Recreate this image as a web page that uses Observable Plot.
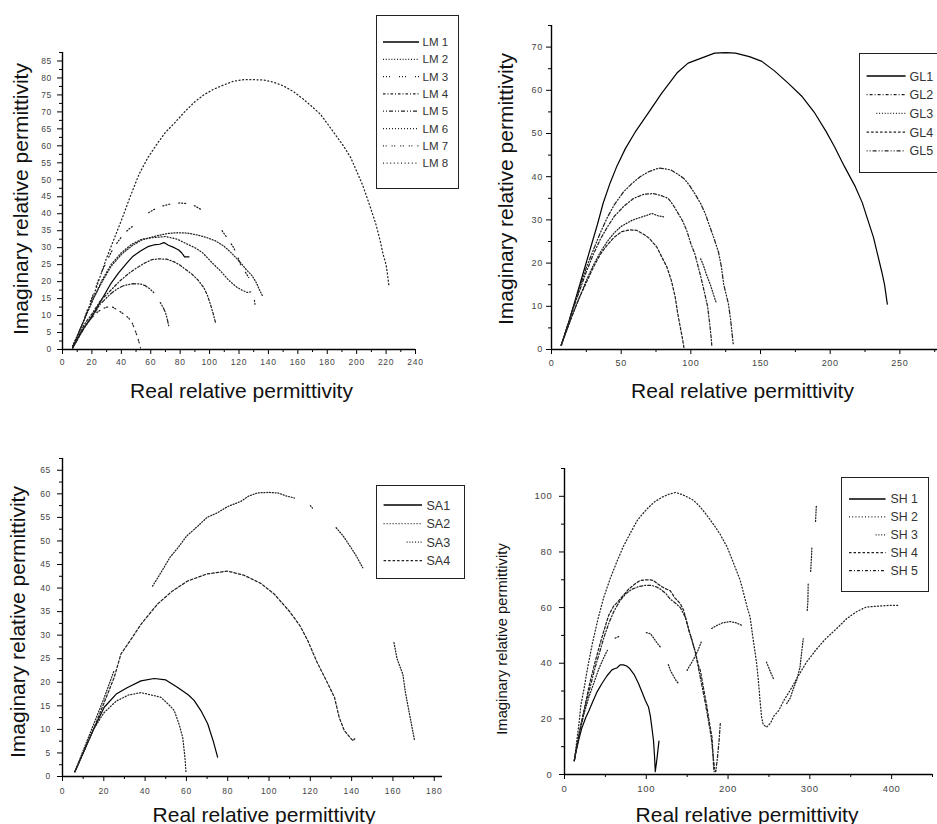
<!DOCTYPE html>
<html><head><meta charset="utf-8">
<script src="https://cdn.jsdelivr.net/npm/d3@7"></script>
<script src="https://cdn.jsdelivr.net/npm/@observablehq/plot@0.6"></script>
<style>
body{margin:0;background:#fff;}
#fig{position:relative;width:937px;height:824px;overflow:hidden;background:#fff;font-family:"Liberation Sans",Arial,sans-serif;}
.panel{position:absolute;}
.panel svg{overflow:visible;}
.title{position:absolute;white-space:nowrap;line-height:1;font-size:21px;color:#111;transform-origin:center;}
.legend{position:absolute;border:1.5px solid #222;background:#fff;box-sizing:border-box;overflow:visible;}
</style></head><body><div id="fig"></div>
<script>
// ---------- DATA ----------
// Panel 1 : LM samples  ([real, imaginary], null = gap)
const LM1 = [[7,0.5],[10,3],[14,6],[18,8.5],[21,10.5],[25,13.5],[29,16.5],[33,19.5],[38,22.5],[44,25.6],[48,27.5],[53,29],[58,30.3],[62,30.8],[66,31],[69,31.5],[72,30.7],[76,30],[79,29.3],[81,28.5],[83,27.3],[86,27.3]];
const LM2 = [[7,1],[11,5],[16,10],[21,15],[27,20],[33,24.5],[40,28],[47,30.5],[54,32.3],[60,33],[66,33.7],[72,34.2],[78,34.4],[85,34.3],[92,33.7],[98,33],[104,32],[109.6,30.5],[114,28.8],[118,27],[121,25.6],[125,23.5],[129,21.7],[132,19.5],[134,17.5],[136,15.8]];
const LM3 = [[7,1],[10,4],[14,8],[18,13],[22,17.5],[25.7,22],[31.3,27.1],[34.7,30],[41.5,34],[46,35.8],[51.7,37.4],null,[58.5,40.3],[62,41.2],[66,42],[70,42.5],[75,43],[80,43.2],[85,43],[90,42.3],[96,40.8],null,[108.5,35],[112,32.8],[116.4,30],[119,27.5],[121,25.1],[124,23],[126.6,21.2],null,[130.5,14.5],[131,12.9]];
const LM4 = [[7,0.5],[11,4],[15,7.5],[20,10.5],[26,14.5],[32.5,17.3],[39,20.2],[45,22.4],[50.6,24.1],[56,25.5],[61,26.5],[66,26.7],[71,26.6],[76,25.8],[80,24.8],[84,23.5],[88,22.2],[92,20.5],[96,18.3],[98.5,16],[100.5,13.4],[102.5,10.5],[104,8]];
const LM5 = [[7,0.5],[11,3.5],[15,6.5],[20,9.5],[25.7,13.4],[32.5,16.3],[37,17.8],[41.5,18.8],[48,19.4],[53,19.3],[56.3,18.8],[59,18],[62,16.8],null,[66.5,13.8],[68.5,12.3],[70,10.9],[71.2,9],[72.2,7]];
const LM6 = [[7,1],[11,5],[16,10],[21,15],[27,20.5],[33,25],[40,28.5],[47,31],[54,32.5],[62,33],[70,33.3],[78,32.5],[85,31],[90,30],[95,28.6],[101.6,25.6],[107.3,23.2],[113,20.4],[118.7,18.3],[122,17.5],[125.5,16.8],[128,17]];
const LM7 = [[7,0.5],[10,3],[14,6],[18,8.5],[23.4,10.9],[27,12],[30.2,12.5],[34,12.5],[38,11.5],[42,10.3],[45,9.3],[47.5,7.7],[49.5,5.5],[51.5,3],[53,0.5]];
const LM8 = [[7,0.5],[10,3.5],[14,8],[18,12.5],[22,17],[26,22],[30,27],[35,32.5],[40,38],[46,45],[52,51.6],[58,56.5],[65,61],[70,64],[75.5,66.4],[83,70],[90,73],[96,75],[102.8,76.7],[110,78],[116,79],[123,79.5],[130,79.5],[137,79.4],[143,78.8],[150,77.7],[157,76],[163,74],[169,71.8],[175.4,69.3],[181,66],[186,63],[191,60],[196,56.5],[200,52.5],[204,48.5],[207,44.8],[210,41],[213,37],[216,32],[218,28],[220,25],[221,22],[222,18.5]];
const lmNames = ["LM 1","LM 2","LM 3","LM 4","LM 5","LM 6","LM 7","LM 8"];
const lmXTicks = [0,20,40,60,80,100,120,140,160,180,200,220,240];
const lmYTicks = [0,5,10,15,20,25,30,35,40,45,50,55,60,65,70,75,80,85];

// Panel 2 : GL samples
const GL1 = [[7,1],[12,6],[18,12.5],[23,18],[28,23.5],[33,29],[37,33.8],[42,38.5],[47,42.5],[53,46.5],[60,50.3],[70,55],[79,59.3],[90,64],[98,66.3],[108,67.5],[117,68.6],[125,68.7],[132,68.6],[142,67.8],[151,66.7],[160,64.5],[170,61.6],[180,58.5],[189,54.7],[197,50.5],[203,47],[210,42.5],[218,37.7],[223,34],[227,30],[231,26],[234,22],[237,18],[239,15],[241,10.5]];
const GL2 = [[7,1],[11,5],[15,9],[20,13.5],[25,18],[30,22],[35,25.5],[40,28.3],[45,30.8],[52,33.2],[59,35],[66,35.9],[73,36.1],[78,35.7],[83.7,35],[87,33.6],[90,32],[94,29.8],[97,27.6],[100,24.5],[103,22],[107,17],[110,12.9],[112,10],[113.5,6],[114.5,3],[115,1]];
const GL3 = [[7,1],[11,4.5],[15,8],[20,12],[25,16],[30,19.5],[35,22.5],[40,25],[45,27],[50,28.5],[57.7,29.9],[63,30.5],[68,31],[72,31.5],[76,31],[80.4,30.7],null,[107,21],[109,19.5],[111,17.5],[114,15],[116,13],[118,11]];
const GL4 = [[7,1],[11,4.5],[15,8],[20,12],[25,15.5],[30,19],[35,22],[40,24.2],[45,26],[50.5,27.3],[56,27.7],[61,27.6],[66,26.7],[70,25.8],[75.6,23.7],[79,21.5],[82.8,19.1],[86,16],[88.8,12.1],[90.5,8.5],[92.4,5.2],[94,2.5],[95,0.5]];
const GL5 = [[7,1],[11,5],[15,9],[20,14],[25,19],[30,23],[35,27],[40,30.5],[45,33.5],[51.7,36.5],[58,38.5],[63.6,40],[70,41.2],[77,42],[82,41.8],[86,41.5],[91,40.5],[95,39.6],[99,38],[103,36],[107,33.8],[110.3,31.5],[113,29],[116.3,26],[119.8,22.6],[122,19],[123.5,15.2],[125.5,12.5],[127,10.5],[128.5,7],[129.5,4],[130.5,1]];
const glNames = ["GL1","GL2","GL3","GL4","GL5"];
const glXTicks = [0,50,100,150,200,250];
const glYTicks = [0,10,20,30,40,50,60,70];

// Panel 3 : SA samples
const SA1 = [[6,1],[10,5],[15,10],[20.2,14.7],[26,17.5],[31.5,18.9],[38,20.3],[44.4,20.8],[50,20.5],[55.8,18.9],[61,17.3],[63.8,16.1],[67,14],[70.3,11.2],[73,7.5],[75.1,4.1]];
const SA2 = [[6,1],[10,5],[15,10],[20,13.5],[26,16],[32,17.3],[38,17.8],[43,17.3],[47.7,16.8],[52,15],[54.1,14],[56.5,11],[58.2,8.3],[59.3,4],[59.8,0.9]];
const SA3 = [[6,1],[10,5.5],[15,11],[20,16.5],[25,22.5],null,[43.6,40.4],[47.7,43.3],[52,46.5],[55.8,48.5],[60,51],[65.4,53.1],[70,55],[75.1,56],[80,57.3],[86.4,58.4],[90,59.5],[94.5,60.2],[100,60.3],[104.2,60.2],[108,59.6],[112.3,59.1],null,[120,57.5],[121,57],null,[132.5,52.8],[136,51],[139.8,48.5],[142,47],[145.4,44.3],null,[160.5,28.4],[162,25],[164.8,21.7],[166,18],[168,13.3],[170.5,7.6]];
const SA4 = [[6,1],[10,5],[15,10],[20,15.5],[25,21],[28.3,26],[33,29],[38,32.3],[46,36.6],[53,39.3],[60.6,41.5],[70,43],[80,43.6],[88,42.7],[96,41],[102.6,38.7],[110,35],[115,32],[118.8,28.8],[123,24.5],[127,21],[131.7,16.8],[134,12.5],[136.5,9.7],[140.6,7.6],[141.5,8]];
const saNames = ["SA1","SA2","SA3","SA4"];
const saXTicks = [0,20,40,60,80,100,120,140,160,180];
const saYTicks = [0,5,10,15,20,25,30,35,40,45,50,55,60,65];

// Panel 4 : SH samples
const SH1 = [[12,5],[14,8],[17,12],[21,16.5],[26,20.5],[30,23],[35,26.5],[40,29.8],[45.8,32.7],[52,35.5],[58,37.6],[61,38],[64,38.3],[68,39.4],[72,39.4],[76,39],[80,38],[85,36],[90.5,32.7],[95,29.5],[99,26.5],[102.7,24.3],[105,21],[107,16.5],[108.8,12.3],[110,7],[111,1],[113,5.5],[115.5,12]];
const SH2 = [[12,5],[15,12],[18,19],[20,25],[24,31],[28,38],[34,47],[41,56],[48,63.7],[56,70.5],[64.6,76.9],[72,82],[80,86.5],[88.9,91.3],[95,93.5],[101,95.5],[110,98],[120,99.8],[128,100.8],[136,101.4],[145,100.5],[152,99.5],[158,98.5],[165,96.5],[172,94],[182,90],[190,86.5],[199,81.7],[204,78],[210,73.5],[215,69.7],[220,64],[224,59.5],[227,56.6],[230,50],[233,44],[235,39.8],[237,34],[239,27],[241,20.7],[243,18],[247,17],[252,18.5],[256,21],[262,23],[268,26.5],[276,30.3],[285,35],[296,40.4],[308,45],[320,49],[333,52.5],[345,56],[357,58.5],[369,60.2],[383,60.5],[398,60.8],[410,60.8]];
const SH3 = [[12,5],[15,10],[19,16],[24,22],[30,28],[36,33],[42,38],[48.3,42.2],[52.4,44.6],null,[62,49],[66.5,49.6],null,[100,51],[105.2,50.6],[108,49.5],[111,48.2],[114,47],[117.3,45.8],null,[127,39.5],[129.5,37.4],[134,35],[137,33.5],[139.6,32.7],null,[149.8,37.4],[154,39.5],[158,41.5],[163,44.5],[168,48.2],null,[180,52.5],[186,53.5],[193,54.5],[202.6,55],[210,54.5],[217,53.6],null,[247,40.4],[251,37.5],[255.4,34.5],null,[271.7,25.5],[276,27.5],[280,31],[284,34],[288,38.6],[290,44],[292,48.8],null,[296.8,59],[297.6,62],[298,68.6],null,[301,73],[302,78],[302.5,81.7],null,[307,91],[307.5,94],[308,97]];
const SH4 = [[12,5],[16,12],[20,18],[25.6,25.5],[31,33],[37,40],[43,46.5],[48,51.5],[54,57.2],[60,60.5],[65,62],[70.2,63.8],[78,66.5],[86.5,68.6],[93,69.8],[100,70],[105,70],[109,69.7],[115,68.3],[122,67],[129.5,66],[135,63.5],[141.7,61.4],[145.7,59],[147.8,56.6],[152,52],[156,48.2],[160,44],[164,39],[166.1,37.4],[170,31],[174.2,24.3],[177,19],[180.3,13.5],[181.5,8],[182.3,2.7],[183,1]];
const SH5 = [[12,5],[16,11],[20,17],[25,24],[31,31],[37,38],[43,44],[49,50],[55,55],[61,59],[68,62.5],[75,65],[82,66.5],[90,67.5],[99,68],[106,68],[112,67.5],[118,66.5],[124,65],[129.5,63],[136,61.5],[141.7,60],[145,58],[147.8,56.6],[152,52],[156,48],[160,44],[164,38],[168,32],[172,26],[175,21],[178,16],[180,12],[182,6],[183.5,2],[185,1],[187,6],[189,12],[190.5,18.3]];
const shNames = ["SH 1","SH 2","SH 3","SH 4","SH 5"];
const shXTicks = [0,100,200,300,400];
const shYTicks = [0,20,40,60,80,100];

const xTitle = "Real relative permittivity";
const yTitle = "Imaginary relative permittivity";

// ---------- STYLES / LAYOUT ----------
const SOLID = null;
const panels = [
  {left:0, top:0, width:468, height:412, m:{l:62, r:53, t:52, b:63},
   xDomain:[0,240], yDomain:[0,87.5], xTicks:lmXTicks, yTicks:lmYTicks,
   xMinor:d3.range(10,240,20), yMinor:d3.range(2.5,88,5),
   tickFont:8.5, xPad:4, yPad:5.5,
   series:[LM1,LM2,LM3,LM4,LM5,LM6,LM7,LM8], names:lmNames,
   dashes:[SOLID,"1,1.8","1,2,1,2,1,9","2.5,2,1,2","1,2,1,2,4,2","1,2","1,1.6,1,5","1,2.6"],
   legend:{left:376, top:15, width:83, height:174, row0:27, step:17.3, x0:7, x1:43, tx:46.5, font:11.5},
   xt:{x:241.5, y:390, size:21}, yt:{x:19.5, y:199, size:21}},
  {left:468, top:0, width:469, height:412, m:{l:83, r:0, t:25, b:63},
   xDomain:[0,277], yDomain:[0,75], xTicks:glXTicks, yTicks:glYTicks,
   xMinor:d3.range(25,277,50), yMinor:d3.range(5,76,10),
   tickFont:9, xPad:5, yPad:3.5,
   series:[GL1,GL2,GL3,GL4,GL5], names:glNames,
   dashes:[SOLID,"1,2,3,2","1,1.8","2.5,2","1,2,1,2,4,2"],
   legendStart:[null,null,18.3,null,null],
   legend:{left:858.7, top:53, width:100, height:120, row0:23, step:18.7, x0:8.6, x1:47.6, tx:51.5, font:12.5},
   xt:{x:742.5, y:390, size:21}, yt:{x:504.5, y:189, size:21}},
  {left:0, top:412, width:468, height:412, m:{l:62, r:26, t:46, b:48},
   xDomain:[0,184], yDomain:[0,67.5], xTicks:saXTicks, yTicks:saYTicks,
   xMinor:d3.range(10,184,20), yMinor:d3.range(2.5,68,5),
   tickFont:8.5, xPad:6, yPad:6.5,
   series:[SA1,SA2,SA3,SA4], names:saNames,
   dashes:[SOLID,"1,2","1,1.8","2.5,2"],
   legendStart:[null,null,31.6,null],
   legend:{left:375.7, top:485, width:89.3, height:94, row0:20, step:18.5, x0:8.6, x1:47, tx:51.5, font:12.5},
   xt:{x:264, y:814, size:21}, yt:{x:17, y:621.5, size:21}},
  {left:468, top:412, width:469, height:412, m:{l:96, r:5, t:56, b:50},
   xDomain:[0,450], yDomain:[0,110], xTicks:shXTicks, yTicks:shYTicks,
   xMinor:d3.range(50,451,100), yMinor:d3.range(10,111,20),
   tickFont:9.5, xPad:6, yPad:7,
   series:[SH1,SH2,SH3,SH4,SH5], names:shNames,
   dashes:[SOLID,"1,2.2","1,1.8","2.5,2","3,2,1,2"],
   legendStart:[null,null,35.6,null,null],
   legend:{left:840.7, top:477, width:88.3, height:114.7, row0:22, step:17.9, x0:9, x1:45.6, tx:50.5, font:12.3},
   xt:{x:747, y:814, size:21}, yt:{x:501.5, y:639, size:14.8}}
];

const toRows = (arr) => arr.map(p => p ? {x:p[0], y:p[1]} : {x:NaN, y:NaN});
const fig = document.getElementById("fig");
const NS = "http://www.w3.org/2000/svg";

panels.forEach(p => {
  const wrap = document.createElement("div");
  wrap.className = "panel";
  Object.assign(wrap.style, {left:p.left+"px", top:p.top+"px", width:p.width+"px", height:p.height+"px"});
  const marks = [];
  p.series.forEach((s, i) => {
    const dash = p.dashes[i];
    marks.push(Plot.line(toRows(s), {x:"x", y:"y", stroke: dash ? "#222" : "#000",
      strokeWidth: dash ? 1.25 : 1.2, strokeDasharray: dash || undefined}));
  });
  marks.push(Plot.ruleX([0], {stroke:"#000", strokeWidth:1.4}));
  marks.push(Plot.ruleY([0], {stroke:"#000", strokeWidth:1.4}));
  marks.push(Plot.axisX(p.xMinor, {tickSize:3, tickFormat:() => "", label:null, stroke:"#000"}));
  marks.push(Plot.axisY(p.yMinor, {tickSize:3, tickFormat:() => "", label:null, stroke:"#000"}));
  marks.push(Plot.axisX(p.xTicks, {tickSize:5, tickPadding:p.xPad, label:null, stroke:"#000", fill:"#444", tickFormat:d => String(d)}));
  marks.push(Plot.axisY(p.yTicks, {tickSize:5, tickPadding:p.yPad, label:null, stroke:"#000", fill:"#444", tickFormat:d => String(d)}));
  const svg = Plot.plot({
    width:p.width, height:p.height,
    marginLeft:p.m.l, marginRight:p.m.r, marginTop:p.m.t, marginBottom:p.m.b,
    x:{domain:p.xDomain, label:null}, y:{domain:p.yDomain, label:null},
    style:{fontFamily:"'Liberation Sans', Arial, sans-serif", fontSize:p.tickFont+"px", letterSpacing:"0.7px", background:"transparent", overflow:"visible"},
    marks
  });
  wrap.appendChild(svg);
  fig.appendChild(wrap);

  // legend
  const L = p.legend;
  const lg = document.createElement("div");
  lg.className = "legend";
  Object.assign(lg.style, {left:L.left+"px", top:L.top+"px", width:L.width+"px", height:L.height+"px"});
  const ls = document.createElementNS(NS, "svg");
  ls.setAttribute("width", L.width); ls.setAttribute("height", L.height);
  ls.style.position = "absolute"; ls.style.left = "-1.5px"; ls.style.top = "-1.5px";
  p.names.forEach((name, i) => {
    const cy = L.row0 + i * L.step;
    const ln = document.createElementNS(NS, "line");
    const x0 = (p.legendStart && p.legendStart[i] != null) ? p.legendStart[i] : L.x0;
    ln.setAttribute("x1", x0); ln.setAttribute("x2", L.x1);
    ln.setAttribute("y1", cy); ln.setAttribute("y2", cy);
    ln.setAttribute("stroke", p.dashes[i] ? "#222" : "#000");
    ln.setAttribute("stroke-width", p.dashes[i] ? 1.25 : 1.3);
    if (p.dashes[i]) ln.setAttribute("stroke-dasharray", p.dashes[i]);
    ls.appendChild(ln);
    const tx = document.createElementNS(NS, "text");
    tx.setAttribute("x", L.tx); tx.setAttribute("y", cy + L.font * 0.36);
    tx.setAttribute("font-size", L.font);
    tx.setAttribute("font-family", "'Liberation Sans', Arial, sans-serif");
    tx.setAttribute("fill", "#333");
    tx.textContent = name;
    ls.appendChild(tx);
  });
  lg.appendChild(ls);
  fig.appendChild(lg);

  // axis titles
  const xt = document.createElement("div");
  xt.className = "title"; xt.textContent = xTitle;
  Object.assign(xt.style, {left:p.xt.x+"px", top:p.xt.y+"px", fontSize:p.xt.size+"px", transform:"translate(-50%,-50%)"});
  fig.appendChild(xt);
  const yt = document.createElement("div");
  yt.className = "title"; yt.textContent = yTitle;
  Object.assign(yt.style, {left:p.yt.x+"px", top:p.yt.y+"px", fontSize:p.yt.size+"px", transform:"translate(-50%,-50%) rotate(-90deg)"});
  fig.appendChild(yt);
});
</script></body></html>
